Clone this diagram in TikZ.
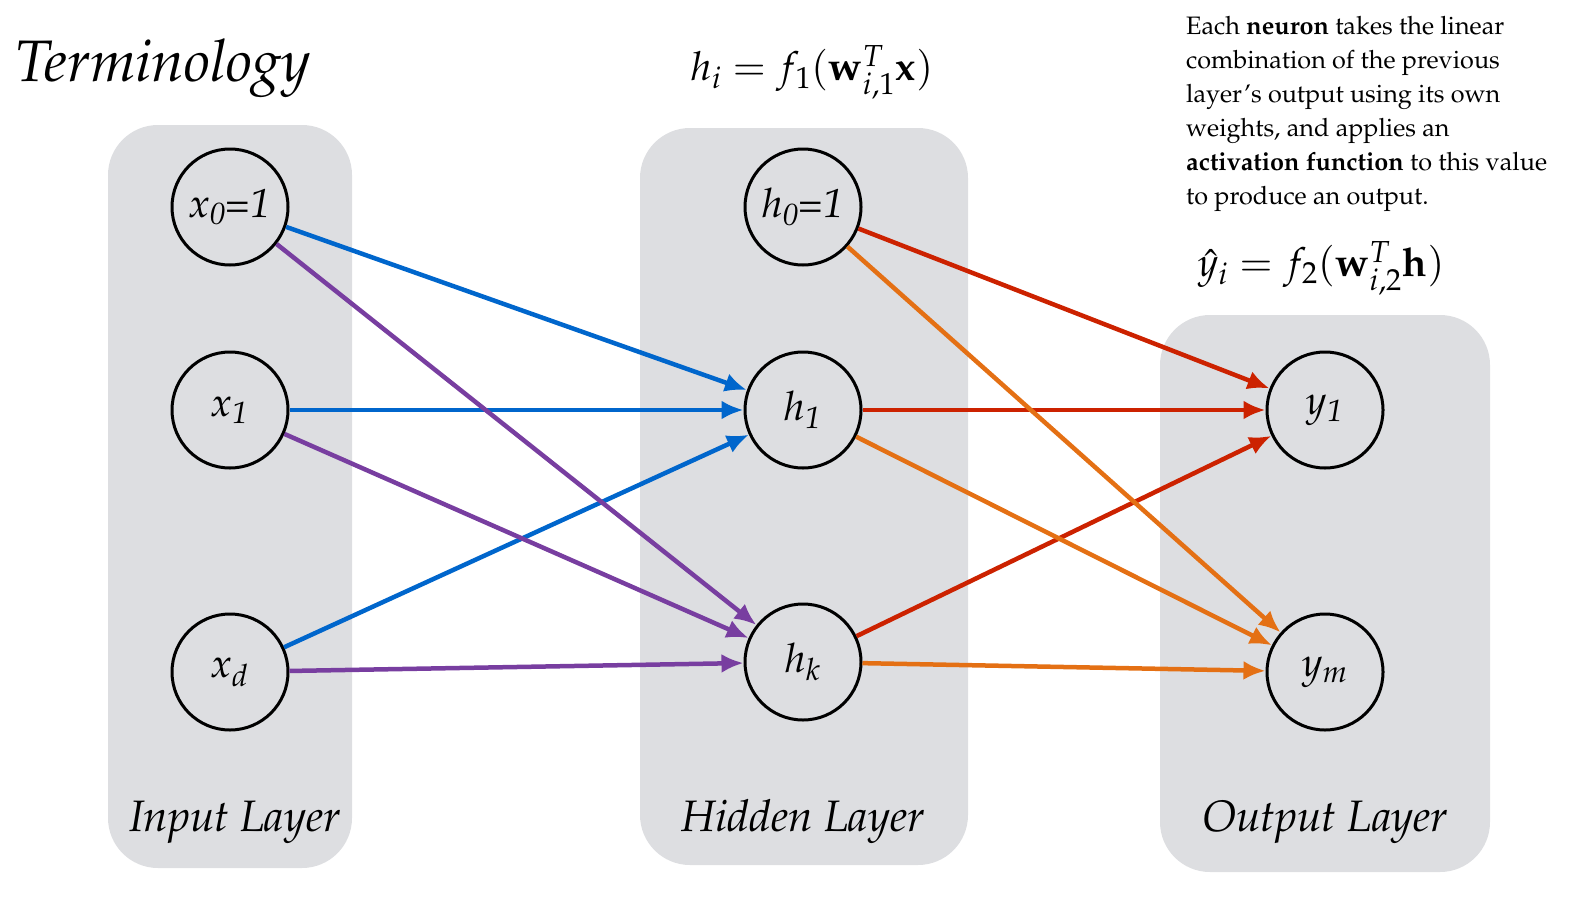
\documentclass[tikz,border=0pt]{standalone}
\usepackage[T1]{fontenc}
\usepackage{mathpazo}
\usetikzlibrary{arrows.meta}
\definecolor{boxgray}{RGB}{221,222,225}
\definecolor{cblue}{RGB}{0,102,204}
\definecolor{cpurple}{RGB}{120,62,160}
\definecolor{cred}{RGB}{204,34,0}
\definecolor{corange}{RGB}{228,112,20}
\tikzset{
  x=1pt,y=1pt,
  layer/.style={fill=boxgray,rounded corners=50pt},
  neuron/.style={circle,draw=black,line width=3pt,minimum size=116pt,inner sep=0pt,font=\fontsize{40.5}{46}\selectfont\itshape},
  conn/.style={line width=4.5pt,-{Latex[length=22pt,width=19pt]}},
  lname/.style={font=\fontsize{44}{50}\selectfont\itshape},
  formula/.style={inner sep=0pt,font=\fontsize{40}{46}\selectfont},
}
\begin{document}
\begin{tikzpicture}
\useasboundingbox (0,0) rectangle (1595,-910);
% layer boxes
\fill[layer] (108,-125) rectangle (352,-868);
\fill[layer] (640,-128) rectangle (968,-865);
\fill[layer] (1160,-315) rectangle (1490,-872);
% title
\node[anchor=west,inner sep=0pt,font=\fontsize{58.5}{66}\selectfont\itshape] (title) at (15,-68) {Terminology};
% formulas
\node[formula] (fh) at (812,-72) {$h_i = f_1(\mathbf{w}_{i,1}^T\mathbf{x})$};
\node[formula] (fy) at (1321,-268) {$\hat{y}_i = f_2(\mathbf{w}_{i,2}^T\mathbf{h})$};
% description
\node[anchor=north west,align=left,inner sep=0pt,font=\fontsize{25.2}{34}\selectfont] (desc) at (1186,-16)
  {Each \textbf{neuron} takes the linear\\combination of the previous\\layer's output using its own\\weights, and applies an\\\textbf{activation function} to this value\\to produce an output.};
% neurons
\node[neuron] (x0) at (230,-207) {x\textsubscript{0}=1};
\node[neuron] (x1) at (230,-410) {x\textsubscript{1}};
\node[neuron] (xd) at (230,-672) {x\textsubscript{d}};
\node[neuron] (h0) at (803,-207) {h\textsubscript{0}=1};
\node[neuron] (h1) at (803,-410) {h\textsubscript{1}};
\node[neuron] (hk) at (803,-662) {h\textsubscript{k}};
\node[neuron] (y1) at (1325,-410) {y\textsubscript{1}};
\node[neuron] (ym) at (1325,-672) {y\textsubscript{m}};
% layer names
\node[lname] (lin) at (235,-822) {Input Layer};
\node[lname] (lhid) at (803,-822) {Hidden Layer};
\node[lname] (lout) at (1325,-822) {Output Layer};
% connections
\draw[conn,cblue] (x0) -- (h1);
\draw[conn,cblue] (x1) -- (h1);
\draw[conn,cblue] (xd) -- (h1);
\draw[conn,cpurple] (x0) -- (hk);
\draw[conn,cpurple] (x1) -- (hk);
\draw[conn,cpurple] (xd) -- (hk);
\draw[conn,cred] (h0) -- (y1);
\draw[conn,cred] (h1) -- (y1);
\draw[conn,cred] (hk) -- (y1);
\draw[conn,corange] (h0) -- (ym);
\draw[conn,corange] (h1) -- (ym);
\draw[conn,corange] (hk) -- (ym);
\end{tikzpicture}
\end{document}
